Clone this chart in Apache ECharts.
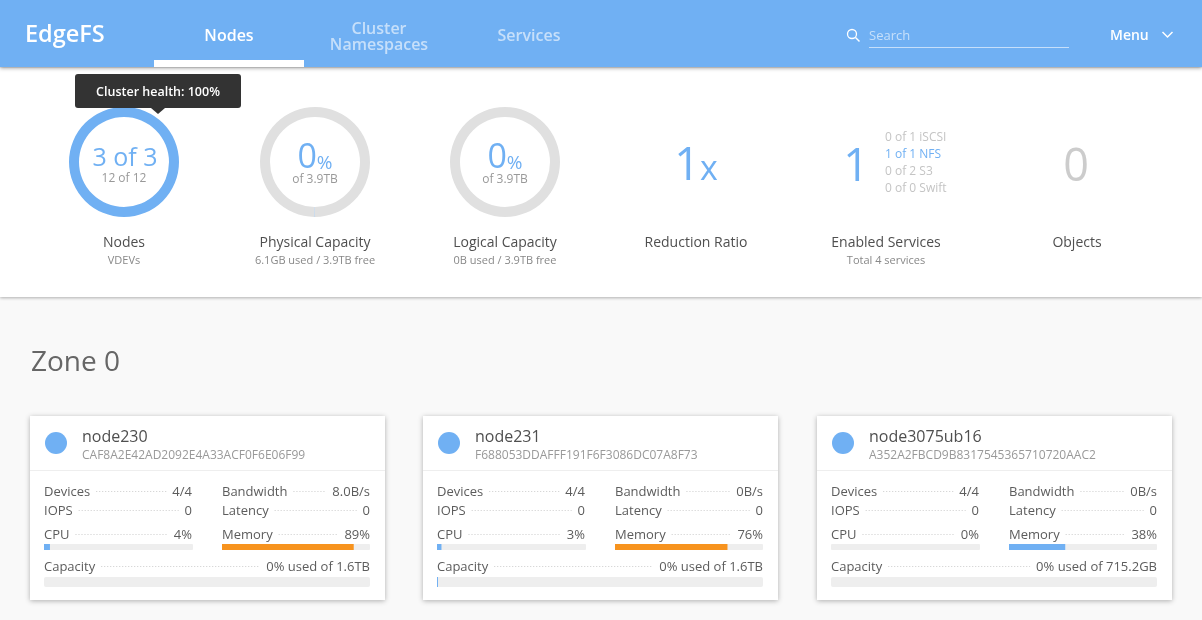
<!DOCTYPE html>
<html>
<head>
<meta charset="utf-8">
<title>EdgeFS</title>
<style>
html, body { margin: 0; padding: 0; background: #f9f9f9; }
#container { width: 1202px; height: 620px; }
</style>
<script src="https://cdn.jsdelivr.net/npm/echarts@6/dist/echarts.min.js"></script>
</head>
<body>
<div id="container"></div>
<script>
var nodeNames = ['node230', 'node231', 'node3075ub16'];
var nodeIds = ['CAF8A2E42AD2092E4A33ACF0F6E06F99', 'F688053DDAFFF191F6F3086DC07A8F73', 'A352A2FBCD9B8317545365710720AAC2'];
var devices = ['4/4', '4/4', '4/4'];
var bandwidth = ['8.0B/s', '0B/s', '0B/s'];
var iops = ['0', '0', '0'];
var latency = ['0', '0', '0'];
var cpu = [4, 3, 0];
var memory = [89, 76, 38];
var capacityUsed = [0, 0.3, 0];
var capacityText = ['0% used of 1.6TB', '0% used of 1.6TB', '0% used of 715.2GB'];

var ringTitles = ['Nodes', 'Physical Capacity', 'Logical Capacity'];
var ringSubs = ['VDEVs', '6.1GB used / 3.9TB free', '0B used / 3.9TB free'];
var ringUsed = [100, 6.1, 0];
var ringFree = [0, 3993.6, 3993.6];
var serviceLines = ['0 of 1 iSCSI', '1 of 1 NFS', '0 of 2 S3', '0 of 0 Swift'];

var BLUE = '#70b0f3', ORANGE = '#f7931e', TRACK = '#eeeeee';
var FONT = '"Open Sans", "Noto Sans", sans-serif';
var cardX = [30, 423, 817];
var ringX = [124, 315, 505];

var dom = document.getElementById('container');
var myChart = echarts.init(dom, null, {renderer: 'canvas'});
var measure = document.createElement('canvas').getContext('2d');

var graphics = [];
var grids = [], xAxes = [], yAxes = [], series = [];

function txt(x, y, text, size, color, align, weight) {
    return {
        type: 'text', z: 5, silent: true,
        style: {
            x: x, y: y + 1, text: text, fill: color,
            font: (weight || 400) + ' ' + size + 'px ' + FONT,
            align: align || 'left', verticalAlign: 'middle'
        }
    };
}
function box(x, y, w, h, fill, z, extra) {
    var style = {fill: fill};
    if (extra) { for (var k in extra) style[k] = extra[k]; }
    return {type: 'rect', z: z || 1, silent: true, shape: {x: x, y: y, width: w, height: h, r: (extra && extra.r) || 0}, style: style};
}
function textW(text, size) {
    measure.font = '400 ' + size + 'px ' + FONT;
    return measure.measureText(text).width;
}
// label on the left, value on the right, dots between them
function row(x1, x2, y, label, value) {
    graphics.push(txt(x1, y, label, 13, '#5c5c5c'));
    graphics.push(txt(x2, y, value, 13, '#5c5c5c', 'right'));
    graphics.push({
        type: 'line', z: 4, silent: true,
        shape: {x1: x1 + textW(label, 13) + 6, y1: y + 0.5, x2: x2 - textW(value, 13) - 6, y2: y + 0.5},
        style: {stroke: '#cccccc', lineWidth: 1, lineDash: [1, 2]}
    });
}
function bar(x, y, w, h, value, color, radius) {
    var i = grids.length;
    grids.push({left: x, top: y, width: w, height: h, containLabel: false});
    xAxes.push({type: 'value', gridIndex: i, min: 0, max: 100, show: false});
    yAxes.push({type: 'category', gridIndex: i, data: [''], show: false});
    series.push({
        type: 'bar', xAxisIndex: i, yAxisIndex: i, data: [value], barWidth: '100%',
        silent: true, animation: false,
        showBackground: true,
        backgroundStyle: {color: TRACK, borderRadius: radius},
        itemStyle: {color: color}
    });
}

// top bar
graphics.push(box(0, 68, 1202, 229, '#ffffff', 1, {shadowBlur: 3, shadowColor: 'rgba(0,0,0,0.3)', shadowOffsetY: 1}));
graphics.push(box(0, 0, 1202, 67, BLUE, 2, {shadowBlur: 4, shadowColor: 'rgba(0,0,0,0.4)', shadowOffsetY: 1}));
graphics.push(box(154, 60, 150, 7, '#ffffff', 3));
graphics.push(txt(25, 34, 'EdgeFS', 23.5, '#ffffff', 'left', 600));
graphics.push(txt(229, 35, 'Nodes', 16, '#ffffff', 'center', 600));
graphics.push(txt(379, 28, 'Cluster', 16, 'rgba(255,255,255,0.6)', 'center', 600));
graphics.push(txt(379, 44, 'Namespaces', 16, 'rgba(255,255,255,0.6)', 'center', 600));
graphics.push(txt(529, 35, 'Services', 16, 'rgba(255,255,255,0.6)', 'center', 600));
graphics.push({type: 'circle', z: 5, silent: true, shape: {cx: 852, cy: 34, r: 4.5}, style: {fill: 'none', stroke: '#ffffff', lineWidth: 1.3}});
graphics.push({type: 'line', z: 5, silent: true, shape: {x1: 855.5, y1: 37.5, x2: 859.5, y2: 41.5}, style: {stroke: '#ffffff', lineWidth: 1.5}});
graphics.push(txt(869, 35, 'Search', 13, 'rgba(255,255,255,0.6)'));
graphics.push({type: 'line', z: 5, silent: true, shape: {x1: 869, y1: 47.5, x2: 1069, y2: 47.5}, style: {stroke: 'rgba(255,255,255,0.6)', lineWidth: 1}});
graphics.push(txt(1110, 35, 'Menu', 14, '#ffffff', 'left', 600));
graphics.push({type: 'polyline', z: 5, silent: true, shape: {points: [[1162.5, 32], [1167.5, 37], [1172.5, 32]]}, style: {fill: 'none', stroke: '#ffffff', lineWidth: 1.5}});

// summary rings
for (var r = 0; r < ringX.length; r++) {
    series.push({
        type: 'pie', center: [ringX[r], 162], radius: [45, 55], startAngle: 270,
        silent: true, animation: false, label: {show: false}, labelLine: {show: false},
        data: [
            {value: ringUsed[r], itemStyle: {color: BLUE}},
            {value: ringFree[r], itemStyle: {color: '#e0e0e0'}}
        ]
    });
    graphics.push(txt(ringX[r], 242, ringTitles[r], 14, '#4f4f4f', 'center', 500));
    graphics.push(txt(ringX[r], 260, ringSubs[r], 11, '#888888', 'center'));
}
graphics.push(txt(125, 158, '3 of 3', 25, BLUE, 'center'));
graphics.push(txt(124, 178, '12 of 12', 12, '#999999', 'center'));
[315, 505].forEach(function (cx) {
    graphics.push({
        type: 'text', z: 5, silent: true,
        style: {
            x: cx, y: 158, text: '{a|0}{b|%}', align: 'center', verticalAlign: 'middle',
            rich: {
                a: {fontFamily: FONT, fontSize: 34, fill: BLUE, color: BLUE, verticalAlign: 'bottom'},
                b: {fontFamily: FONT, fontSize: 19, fontWeight: 500, fill: BLUE, color: BLUE, verticalAlign: 'bottom', padding: [0, 0, 2, 0]}
            }
        }
    });
    graphics.push(txt(cx, 179, 'of 3.9TB', 12, '#999999', 'center'));
});

// tooltip on the first ring
graphics.push(box(75, 74, 166, 34, '#333333', 10, {r: 3}));
graphics.push({type: 'polygon', z: 10, silent: true, shape: {points: [[151, 108], [165, 108], [158, 114]]}, style: {fill: '#333333'}});
graphics.push({type: 'text', z: 11, silent: true, style: {x: 158, y: 92, text: 'Cluster health: 100%', fill: '#ffffff', font: '600 12.5px ' + FONT, align: 'center', verticalAlign: 'middle'}});

// big numbers
graphics.push({
    type: 'text', z: 5, silent: true,
    style: {
        x: 696, y: 167, text: '{a|1}{b|x}', align: 'center', verticalAlign: 'middle',
        rich: {
            a: {fontFamily: FONT, fontSize: 45, fontWeight: 400, fill: BLUE, color: BLUE, verticalAlign: 'bottom'},
            b: {fontFamily: FONT, fontSize: 34, fontWeight: 400, fill: BLUE, color: BLUE, verticalAlign: 'bottom', padding: [0, 0, 2, 0]}
        }
    }
});
graphics.push(txt(856, 167, '1', 45, BLUE, 'center', 400));
serviceLines.forEach(function (line, i) {
    graphics.push(txt(885, 137 + i * 17, line, 12, i === 1 ? BLUE : '#c4c4c4'));
});
graphics.push(txt(1076, 167, '0', 45, '#cccccc', 'center', 500));
graphics.push(txt(696, 242, 'Reduction Ratio', 14, '#4f4f4f', 'center', 500));
graphics.push(txt(886, 242, 'Enabled Services', 14, '#4f4f4f', 'center', 500));
graphics.push(txt(886, 260, 'Total 4 services', 11, '#888888', 'center'));
graphics.push(txt(1077, 242, 'Objects', 14, '#4f4f4f', 'center', 500));

graphics.push(txt(31, 362, 'Zone 0', 28, '#666666'));

// node cards
for (var n = 0; n < nodeNames.length; n++) {
    var x = cardX[n];
    graphics.push(box(x, 416, 355, 184, '#ffffff', 1, {shadowBlur: 5, shadowColor: 'rgba(0,0,0,0.3)', shadowOffsetY: 1}));
    graphics.push(box(x, 470, 355, 1, '#eeeeee', 2));
    graphics.push({type: 'circle', z: 3, silent: true, shape: {cx: x + 26, cy: 443, r: 11}, style: {fill: BLUE}});
    graphics.push(txt(x + 52, 436, nodeNames[n], 16, '#4f4f4f', 'left', 500));
    graphics.push(txt(x + 52, 455, nodeIds[n], 12, '#999999'));

    row(x + 14, x + 162, 491, 'Devices', devices[n]);
    row(x + 192, x + 340, 491, 'Bandwidth', bandwidth[n]);
    row(x + 14, x + 162, 510, 'IOPS', iops[n]);
    row(x + 192, x + 340, 510, 'Latency', latency[n]);
    row(x + 14, x + 162, 534, 'CPU', cpu[n] + '%');
    row(x + 192, x + 340, 534, 'Memory', memory[n] + '%');
    row(x + 14, x + 340, 566, 'Capacity', capacityText[n]);

    bar(x + 14, 544, 149, 6, cpu[n], BLUE, 1);
    bar(x + 192, 544, 148, 6, memory[n], memory[n] > 50 ? ORANGE : BLUE, 1);
    bar(x + 14, 577, 326, 10, capacityUsed[n], BLUE, 2);
}

var option = {
    backgroundColor: '#f9f9f9',
    animation: false,
    tooltip: {show: false},
    grid: grids,
    xAxis: xAxes,
    yAxis: yAxes,
    series: series,
    graphic: {elements: graphics}
};
myChart.setOption(option, true);
</script>
</body>
</html>
